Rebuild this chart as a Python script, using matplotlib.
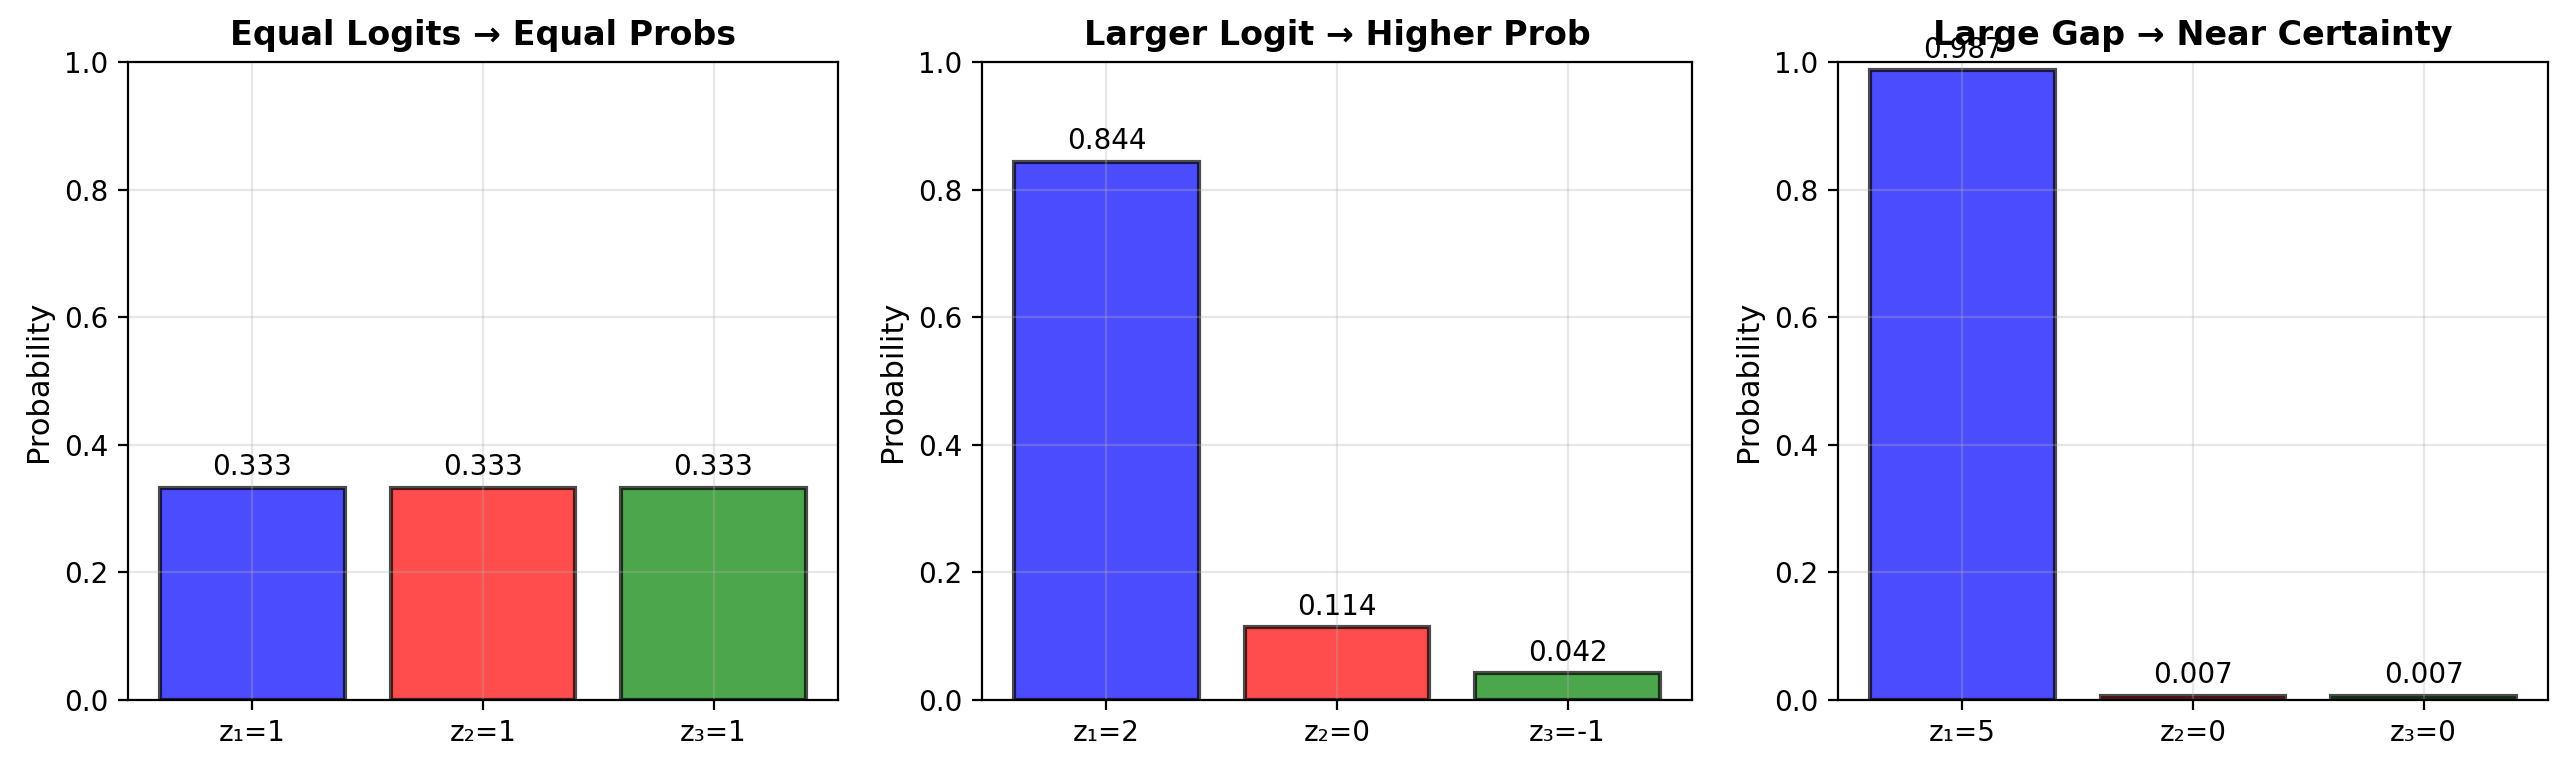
import matplotlib
matplotlib.use("Agg")
import matplotlib.pyplot as plt

# softmax examples: logits and resulting probabilities
titles = ["Equal Logits \u2192 Equal Probs",
          "Larger Logit \u2192 Higher Prob",
          "Large Gap \u2192 Near Certainty"]
tick_labels = [
    ["z\u2081=1", "z\u2082=1", "z\u2083=1"],
    ["z\u2081=2", "z\u2082=0", "z\u2083=-1"],
    ["z\u2081=5", "z\u2082=0", "z\u2083=0"],
]
probs_equal = [0.333, 0.333, 0.333]
probs_larger = [0.844, 0.114, 0.042]
probs_gap = [0.987, 0.007, 0.007]
bar_colors = ["blue", "red", "green"]

W, H, DPI = 2566, 769, 200
fig = plt.figure(figsize=(W / DPI, H / DPI), dpi=DPI)

lefts = [128, 982, 1838]
ax_w, ax_top, ax_bot = 710, 62, 700

for i, probs in enumerate([probs_equal, probs_larger, probs_gap]):
    ax = fig.add_axes([lefts[i] / W, 1 - ax_bot / H, ax_w / W, (ax_bot - ax_top) / H])
    x = range(len(probs))
    bars = ax.bar(x, probs, color=bar_colors, alpha=0.7, edgecolor="black", linewidth=1.5)
    ax.set_xticks(list(x))
    ax.set_xticklabels(tick_labels[i])
    ax.set_ylim(0, 1)
    ax.set_ylabel("Probability", fontsize=11)
    ax.set_title(titles[i], fontsize=12, fontweight="bold")
    ax.grid(True, alpha=0.3)
    for b, p in zip(bars, probs):
        ax.text(b.get_x() + b.get_width() / 2, p + 0.01, f"{p:.3f}",
                ha="center", va="bottom", fontsize=10)

fig.savefig("out.png", dpi=DPI)
